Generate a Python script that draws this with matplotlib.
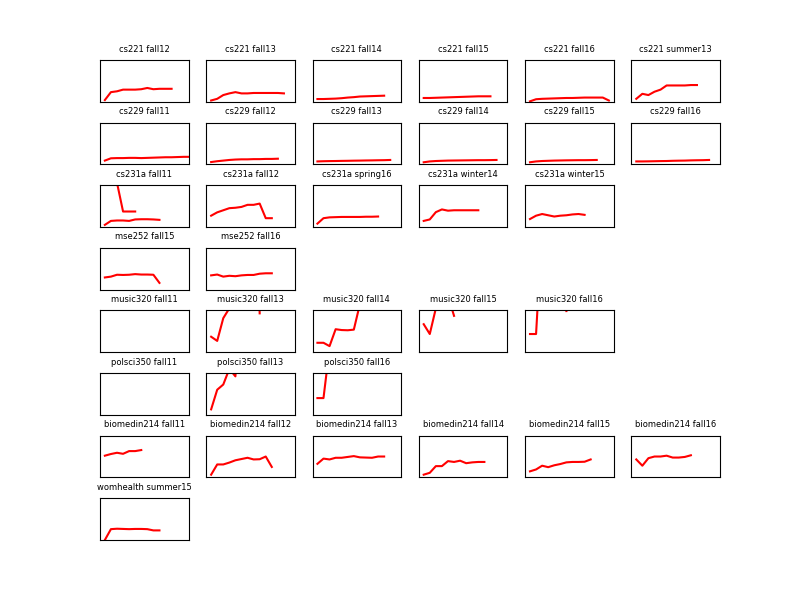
import numpy as np
import matplotlib
matplotlib.use("Agg")
import matplotlib.pyplot as plt

nan = np.nan

# ---- data (fraction of the shared y range, one value per week) ----
cs221_fall12 = [0.04, 0.23, 0.25, 0.29, 0.29, 0.29, 0.30, 0.33, 0.30, 0.31, 0.31, 0.31]
cs221_fall13 = [0.03, 0.07, 0.16, 0.20, 0.23, 0.20, 0.20, 0.21, 0.21, 0.21, 0.21, 0.21, 0.20]
cs221_fall14 = [0.065, 0.065, 0.07, 0.075, 0.085, 0.10, 0.11, 0.125, 0.13, 0.135, 0.14, 0.145]
cs221_fall15 = [0.09, 0.09, 0.095, 0.10, 0.105, 0.11, 0.115, 0.12, 0.125, 0.13, 0.13, 0.13]
cs221_fall16 = [0.01, 0.06, 0.07, 0.075, 0.08, 0.085, 0.09, 0.09, 0.095, 0.10, 0.10, 0.10, 0.10, 0.03]
cs221_summer13 = [0.07, 0.19, 0.16, 0.24, 0.29, 0.39, 0.39, 0.39, 0.39, 0.40, 0.40]

cs229_fall11 = [0.09, 0.145, 0.15, 0.15, 0.155, 0.155, 0.15, 0.155, 0.16, 0.165, 0.17, 0.17, 0.175, 0.18, 0.18, 0.185]
cs229_fall12 = [0.055, 0.075, 0.09, 0.105, 0.115, 0.12, 0.12, 0.125, 0.125, 0.13, 0.13, 0.135]
cs229_fall13 = [0.07, 0.075, 0.078, 0.08, 0.083, 0.085, 0.088, 0.09, 0.093, 0.095, 0.098, 0.10, 0.105]
cs229_fall14 = [0.05, 0.07, 0.08, 0.085, 0.09, 0.092, 0.094, 0.096, 0.098, 0.10, 0.10, 0.102, 0.105]
cs229_fall15 = [0.05, 0.07, 0.08, 0.085, 0.09, 0.093, 0.096, 0.098, 0.10, 0.10, 0.102, 0.105]
cs229_fall16 = [0.07, 0.07, 0.072, 0.075, 0.078, 0.08, 0.085, 0.088, 0.09, 0.095, 0.098, 0.10, 0.105]

cs231a_fall11 = [0.05, 0.145, 0.155, 0.155, 0.145, 0.18, 0.185, 0.185, 0.18, 0.17]
cs231a_fall11_b = [nan, nan, 1.06, 0.37, 0.37, 0.37]
cs231a_fall12 = [0.27, 0.35, 0.40, 0.45, 0.46, 0.48, 0.53, 0.53, 0.56, 0.21, 0.21]
cs231a_spring16 = [0.08, 0.21, 0.23, 0.235, 0.24, 0.24, 0.24, 0.24, 0.245, 0.245, 0.25]
cs231a_winter14 = [0.145, 0.18, 0.355, 0.42, 0.39, 0.40, 0.40, 0.40, 0.40, 0.40]
cs231a_winter15 = [0.19, 0.27, 0.31, 0.28, 0.25, 0.27, 0.28, 0.30, 0.31, 0.29]

mse252_fall15 = [0.29, 0.31, 0.355, 0.35, 0.355, 0.37, 0.36, 0.36, 0.355, 0.16]
mse252_fall16 = [0.34, 0.36, 0.31, 0.33, 0.32, 0.34, 0.35, 0.35, 0.38, 0.39, 0.39]

music320_fall11 = []
music320_fall13 = [0.37, 0.27, 0.815, 1.05, 3.0, 4.0, 5.0, 6.0, 0.93]
music320_fall14 = [0.225, 0.225, 0.145, 0.55, 0.53, 0.525, 0.54, 1.15]
music320_fall15 = [0.67, 0.435, 1.05, 3.0, 1.35, 0.87]
music320_fall16 = [0.435, 0.435, 3.0, 4.0, 5.0, 6.0, 0.985]

polsci350_fall11 = []
polsci350_fall13 = [0.13, 0.60, 0.725, 1.1, 0.92, 3.0]
polsci350_fall16 = [0.40, 0.40, 1.6]

biomedin214_fall11 = [0.52, 0.56, 0.59, 0.565, 0.63, 0.63, 0.655]
biomedin214_fall12 = [0.065, 0.31, 0.31, 0.355, 0.41, 0.44, 0.47, 0.43, 0.435, 0.50, 0.25]
biomedin214_fall13 = [0.325, 0.45, 0.43, 0.47, 0.47, 0.49, 0.51, 0.48, 0.475, 0.47, 0.50, 0.50]
biomedin214_fall14 = [0.065, 0.11, 0.27, 0.27, 0.39, 0.37, 0.40, 0.34, 0.36, 0.37, 0.37]
biomedin214_fall15 = [0.145, 0.19, 0.28, 0.245, 0.29, 0.32, 0.36, 0.37, 0.37, 0.375, 0.43]
biomedin214_fall16 = [0.43, 0.28, 0.46, 0.50, 0.50, 0.52, 0.475, 0.475, 0.49, 0.53]

womhealth_summer15 = [0.0, 0.26, 0.27, 0.265, 0.26, 0.265, 0.265, 0.26, 0.23, 0.23]

# ---- layout: one row per course ----
rows = [
    [("cs221 fall12", [cs221_fall12]), ("cs221 fall13", [cs221_fall13]),
     ("cs221 fall14", [cs221_fall14]), ("cs221 fall15", [cs221_fall15]),
     ("cs221 fall16", [cs221_fall16]), ("cs221 summer13", [cs221_summer13])],
    [("cs229 fall11", [cs229_fall11]), ("cs229 fall12", [cs229_fall12]),
     ("cs229 fall13", [cs229_fall13]), ("cs229 fall14", [cs229_fall14]),
     ("cs229 fall15", [cs229_fall15]), ("cs229 fall16", [cs229_fall16])],
    [("cs231a fall11", [cs231a_fall11, cs231a_fall11_b]), ("cs231a fall12", [cs231a_fall12]),
     ("cs231a spring16", [cs231a_spring16]), ("cs231a winter14", [cs231a_winter14]),
     ("cs231a winter15", [cs231a_winter15])],
    [("mse252 fall15", [mse252_fall15]), ("mse252 fall16", [mse252_fall16])],
    [("music320 fall11", [music320_fall11]), ("music320 fall13", [music320_fall13]),
     ("music320 fall14", [music320_fall14]), ("music320 fall15", [music320_fall15]),
     ("music320 fall16", [music320_fall16])],
    [("polsci350 fall11", [polsci350_fall11]), ("polsci350 fall13", [polsci350_fall13]),
     ("polsci350 fall16", [polsci350_fall16])],
    [("biomedin214 fall11", [biomedin214_fall11]), ("biomedin214 fall12", [biomedin214_fall12]),
     ("biomedin214 fall13", [biomedin214_fall13]), ("biomedin214 fall14", [biomedin214_fall14]),
     ("biomedin214 fall15", [biomedin214_fall15]), ("biomedin214 fall16", [biomedin214_fall16])],
    [("womhealth summer15", [womhealth_summer15])],
]

fig = plt.figure(figsize=(8, 6), dpi=100)
nrows, ncols = 8, 6
for r, row in enumerate(rows):
    for c, (title, series) in enumerate(row):
        ax = fig.add_subplot(nrows, ncols, r * ncols + c + 1)
        for s in series:
            if len(s):
                ax.plot(np.arange(len(s)), s, color="red", linewidth=1.5)
        ax.set_xlim(-0.8, 13.8)
        ax.set_ylim(0, 1)
        ax.set_xticks([])
        ax.set_yticks([])
        ax.set_title(title, fontsize=6)

fig.subplots_adjust(left=0.125, right=0.9, top=0.9, bottom=0.1, wspace=0.2, hspace=0.5)
fig.savefig("out.png", dpi=100)
